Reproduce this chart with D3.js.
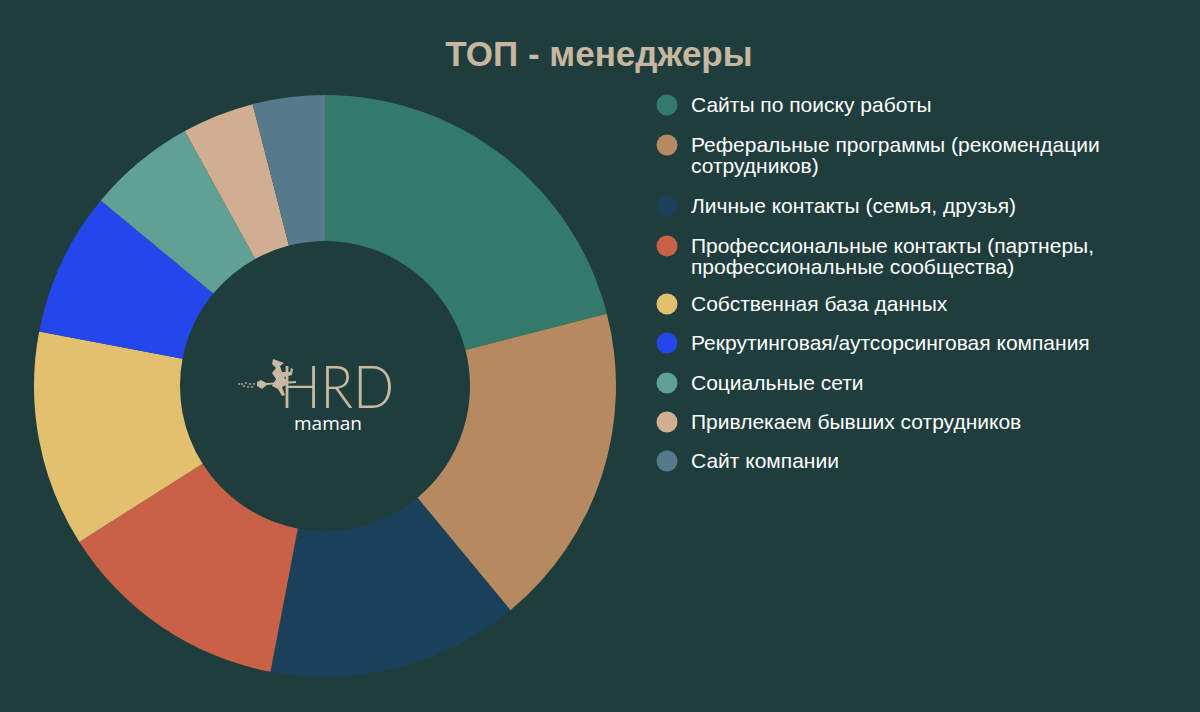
<!DOCTYPE html>
<html><head><meta charset="utf-8">
<script src="https://cdn.jsdelivr.net/npm/d3@7"></script>
<style>html,body{margin:0;padding:0;background:#1e3d3c;}svg{display:block;}</style>
</head><body>
<script>
const categories = [
  "Сайты по поиску работы",
  "Реферальные программы (рекомендации|сотрудников)",
  "Личные контакты (семья, друзья)",
  "Профессиональные контакты (партнеры,|профессиональные сообщества)",
  "Собственная база данных",
  "Рекрутинговая/аутсорсинговая компания",
  "Социальные сети",
  "Привлекаем бывших сотрудников",
  "Сайт компании"
];
const values = [21, 18, 14, 13, 12, 8, 6, 4, 4];
const colors = ["#337a6a", "#b58a60", "#1b405a", "#c96149", "#e3c070", "#2446ea", "#60a095", "#cfae91", "#56798b"];
const title = "ТОП - менеджеры";

const W = 1200, H = 712;
const svg = d3.select("body").append("svg").attr("width", W).attr("height", H);
svg.append("rect").attr("width", W).attr("height", H).attr("fill", "#1e3d3c");

svg.append("text").attr("x", 599).attr("y", 66).attr("text-anchor", "middle")
  .attr("font-family", "Liberation Sans, Arial, sans-serif").attr("font-weight", "bold")
  .attr("font-size", 35).attr("fill", "#c8b7a0").text(title);

const cx = 325, cy = 386, R = 291, r = 145;
const pie = d3.pie().sort(null).value(d => d);
const arc = d3.arc().innerRadius(r).outerRadius(R);
const g = svg.append("g").attr("transform", `translate(${cx},${cy})`);
g.selectAll("path").data(pie(values)).join("path")
  .attr("d", arc).attr("fill", (d, i) => colors[i]);

// legend
const legendY = [105, 145, 206, 246, 304, 343, 383, 422, 461];
const lg = svg.append("g");
categories.forEach((c, i) => {
  const y = legendY[i];
  lg.append("circle").attr("cx", 667).attr("cy", y).attr("r", 10.5).attr("fill", colors[i]);
  const lines = c.split("|");
  const t = lg.append("text").attr("x", 691).attr("y", y + 7)
    .attr("font-family", "Liberation Sans, Arial, sans-serif").attr("font-size", 21).attr("fill", "#ffffff");
  lines.forEach((ln, k) => {
    t.append("tspan").attr("x", 691).attr("dy", k === 0 ? 0 : 21).text(ln);
  });
});

// logo
const logo = svg.append("g");
logo.append("text").attr("x", 280).attr("y", 408)
  .attr("font-family", "Lato, 'Open Sans', sans-serif").attr("font-weight", 300)
  .attr("font-size", 60).attr("fill", "#c9b8a2").attr("textLength", 114).attr("lengthAdjust", "spacingAndGlyphs").text("HRD");
logo.append("text").attr("x", 328).attr("y", 430).attr("text-anchor", "middle")
  .attr("font-family", "'Open Sans', sans-serif").attr("font-size", 19).attr("fill", "#ffffff").text("maman");
// witch silhouette
const wc = "#c9b8a2";
logo.append("line").attr("x1", 266).attr("y1", 384).attr("x2", 296).attr("y2", 382).attr("stroke", wc).attr("stroke-width", 2);
logo.append("path").attr("fill", wc)
  .attr("d", "M268,384 L261,380 L257,382 L257,386 L262,389 Z");
logo.append("path").attr("fill", wc)
  .attr("d", "M273,359 L284,363 L280,366 L282,372 L290,372 L291,368 L293,369 L292,375 L284,377 L288,384 L282,387 L285,395 L282,396 L278,389 L272,386 L276,379 L272,373 L276,368 L272,364 Z");
[[254,384],[250,384],[246,383],[242,384],[252,387],[248,387],[244,386],[239,384]].forEach(p => {
  logo.append("circle").attr("cx", p[0]).attr("cy", p[1]).attr("r", 0.9).attr("fill", wc);
});
</script>
</body></html>
